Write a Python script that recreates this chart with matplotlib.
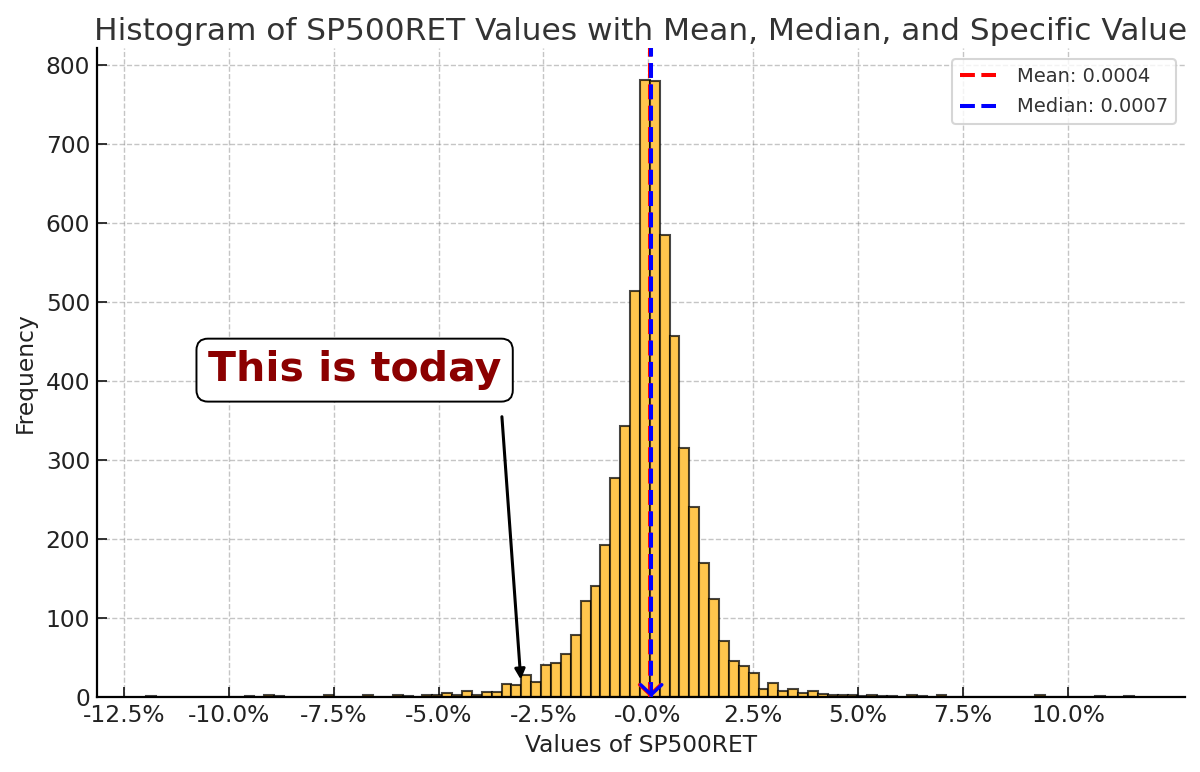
import matplotlib
matplotlib.use("Agg")
import matplotlib.pyplot as plt

first_edge = -0.1198
bin_width = 0.002356
counts = [1,0,0,0,0,0,0,0,0,0,1,0,2,1,0,0,0,0,2,0,0,0,2,0,0,2,1,0,3,2,
          5,3,7,3,6,6,16,15,28,19,40,43,54,79,121,140,192,278,343,514,
          782,780,585,457,315,241,170,124,71,46,39,30,10,18,7,10,5,8,4,3,
          3,2,1,2,1,1,0,3,1,0,3,0,0,0,0,0,0,0,0,0,
          2,0,0,0,0,0,1,0,0,1]
mean_value = 0.0004
median_value = 0.0007
x_ticks = [-0.125,-0.10,-0.075,-0.05,-0.025,-0.0001,0.025,0.05,0.075,0.10]
x_labels = ['-12.5%','-10.0%','-7.5%','-5.0%','-2.5%','-0.0%','2.5%','5.0%','7.5%','10.0%']
y_ticks = [0,100,200,300,400,500,600,700,800]

W, H = 1200, 772
fig = plt.figure(figsize=(12, 7.72), dpi=100)
L, R, T, B = 97, 1185, 48, 697
ax = fig.add_axes([L/W, 1-B/H, (R-L)/W, (B-T)/H])

lefts = [first_edge + i*bin_width for i in range(len(counts))]
ax.bar(lefts, counts, width=bin_width, align='edge', facecolor='#FFC64D',
       edgecolor=(0, 0, 0, 0.72), linewidth=1.5, zorder=2)
ax.axvline(mean_value, color='red', ls='--', lw=2.9, label=f'Mean: {mean_value:.4f}', zorder=3)
ax.axvline(median_value, color='blue', ls='--', lw=2.9, label=f'Median: {median_value:.4f}', zorder=3)
for v, c in ((mean_value, 'red'), (median_value, 'blue')):
    ax.annotate('', xy=(v, 0), xytext=(v, 14),
                arrowprops=dict(arrowstyle='->,head_length=0.36,head_width=0.38', color=c, lw=2.4,
                                mutation_scale=20, shrinkA=0, shrinkB=0), zorder=4)

ax.set_xlim(-0.1314, 0.1279)
ax.set_ylim(0, 822)
ax.set_xticks(x_ticks)
ax.set_xticklabels(x_labels)
ax.set_yticks(y_ticks)
ax.tick_params(axis='both', labelsize=16.8, direction='in', length=7, width=1.3, colors='#222222', pad=5)
ax.grid(True, ls='--', color='gray', alpha=0.45, lw=1.0, zorder=0)
ax.set_axisbelow(True)
ax.spines[['top','right']].set_visible(False)
for s in ('left','bottom'):
    ax.spines[s].set_linewidth(1.6)
ax.set_xlabel('Values of SP500RET', fontsize=16.8, color='#222222', labelpad=5)
ax.set_ylabel('Frequency', fontsize=16.8, color='#222222', labelpad=6)
ax.set_title('Histogram of SP500RET Values with Mean, Median, and Specific Value',
             fontsize=22.5, color='#333333', pad=6)

ax.text(-0.0700, 414, 'This is today', fontsize=29.5, fontweight='bold', color='darkred',
        ha='center', va='center', zorder=6,
        bbox=dict(boxstyle='round,pad=0.28', facecolor='white', edgecolor='black', lw=1.4))
ax.annotate('', xy=(-0.0304, 22), xytext=(-0.0349, 355),
            arrowprops=dict(arrowstyle='-|>', color='black', lw=2.2, mutation_scale=15,
                            shrinkA=0, shrinkB=0), zorder=6)

leg = ax.legend(loc='upper right', fontsize=14, bbox_to_anchor=(0.9917, 0.983),
                borderaxespad=0, framealpha=0.8, handlelength=1.85, handletextpad=1.1,
                labelspacing=0.6, edgecolor='#cccccc')
leg.get_frame().set_linewidth(1.5)
for t in leg.get_texts():
    t.set_color('#333333')

fig.savefig('out.png', dpi=100)
